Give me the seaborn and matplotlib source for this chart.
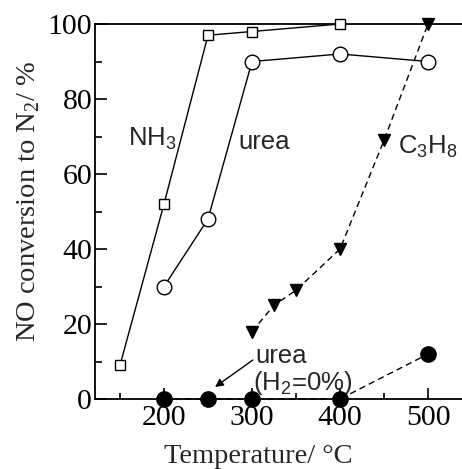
import matplotlib
matplotlib.use("Agg")
import matplotlib.pyplot as plt
import seaborn as sns
from matplotlib.ticker import MultipleLocator

# Data
nh3_t = [150, 200, 250, 300, 400]
nh3_conv = [9, 52, 97, 98, 100]
urea_t = [200, 250, 300, 400, 500]
urea_conv = [30, 48, 90, 92, 90]
c3h8_t = [300, 325, 350, 400, 450, 500]
c3h8_conv = [18, 25, 29, 40, 69, 100]
urea0_t = [200, 250, 300, 400, 500]
urea0_conv = [0, 0, 0, 0, 12]
x_ticks = [200, 300, 400, 500]
y_ticks = [0, 20, 40, 60, 80, 100]

sns.set_style("ticks")
serif = ["Liberation Serif", "DejaVu Serif"]
sans = ["Liberation Sans", "DejaVu Sans"]
plt.rcParams['font.family'] = serif

fig = plt.figure(figsize=(4.62, 4.69), dpi=100)
ax = fig.add_axes([95/462, 1-399/469, 1-95/462, 375/469])

common = dict(ax=ax, color='black', linewidth=1.0, markeredgecolor='black',
              markeredgewidth=1.0, clip_on=False, zorder=5, legend=False)
sns.lineplot(x=nh3_t, y=nh3_conv, marker='s', markersize=7.5,
             markerfacecolor='white', linestyle='-', **common)
sns.lineplot(x=urea_t, y=urea_conv, marker='o', markersize=10.5,
             markerfacecolor='white', linestyle='-', **common)
sns.lineplot(x=c3h8_t, y=c3h8_conv, marker='v', markersize=9,
             markerfacecolor='black', linestyle=(0, (4.5, 3)), **common)
sns.lineplot(x=urea0_t, y=urea0_conv, marker='o', markersize=11,
             markerfacecolor='black', linestyle=(0, (4.5, 3)), **common)
for ln in ax.lines:
    ln.set_clip_on(False)

ax.set_xlim(121.6, 538.6)
ax.set_ylim(0, 100)
ax.set_xticks(x_ticks)
ax.set_yticks(y_ticks)
ax.xaxis.set_minor_locator(MultipleLocator(50))
ax.yaxis.set_minor_locator(MultipleLocator(10))
ax.tick_params(which='both', direction='in', width=1.2, labelsize=21.5,
               colors='black')
ax.tick_params(axis='y', which='major', length=8.5, pad=2)
ax.tick_params(axis='y', which='minor', length=5)
ax.tick_params(axis='x', which='major', length=8, pad=4)
ax.tick_params(axis='x', which='minor', length=4.5)
for lab in ax.get_xticklabels() + ax.get_yticklabels():
    lab.set_family(serif)

ax.spines['right'].set_visible(False)
for s in ['left', 'bottom', 'top']:
    ax.spines[s].set_linewidth(1.3)
    ax.spines[s].set_color('black')

ax.set_xlabel("Temperature/ °C", fontsize=20.5, family=serif)
ax.set_ylabel("NO conversion to N$_\\mathregular{2}$/ %", fontsize=20.5, family=serif)
ax.xaxis.set_label_coords(0.444, -0.12)
ax.yaxis.set_label_coords(-0.144, 0.528)

fs = 18.5
ax.text(159, 69.5, "NH$_\\mathregular{3}$", fontsize=fs, family=sans, ha='left', va='center')
ax.text(284, 68.5, "urea", fontsize=fs, family=sans, ha='left', va='center')
ax.text(466, 67.2, "C$_\\mathregular{3}$H$_\\mathregular{8}$", fontsize=fs, family=sans, ha='left', va='center')
ax.text(304, 11.5, "urea", fontsize=fs, family=sans, ha='left', va='center')
ax.text(301, 4.3, "(H$_\\mathregular{2}$=0%)", fontsize=fs, family=sans, ha='left', va='center')
ax.annotate("", xy=(258, 3.2), xytext=(301, 10.4),
            arrowprops=dict(arrowstyle='-|>', color='black', lw=1.0,
                            mutation_scale=12, shrinkA=0, shrinkB=0))

fig.savefig("out.png", dpi=100)
